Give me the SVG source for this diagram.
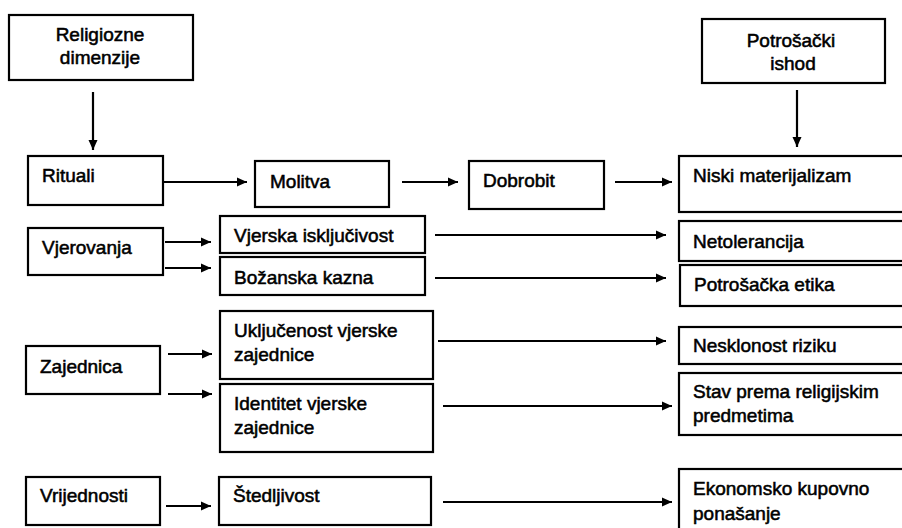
<svg xmlns="http://www.w3.org/2000/svg" width="902" height="528" viewBox="0 0 902 528">
<defs>
<marker id="ah" markerWidth="11" markerHeight="11" refX="10" refY="5.5" orient="auto" markerUnits="userSpaceOnUse">
<path d="M0,1 L10,5.5 L0,10 Z" fill="#000"/>
</marker>
<style>
rect{fill:#fff;stroke:#000;stroke-width:2.2}
text{font-family:"Liberation Sans",Arial,sans-serif;font-size:19px;fill:#000;stroke:#000;stroke-width:0.55}
.c{text-anchor:middle}
.conn line{stroke:#000;stroke-width:2.2;marker-end:url(#ah)}
</style>
</defs>
<rect x="0" y="0" width="902" height="528" style="fill:#fff;stroke:none"/>
<g id="religiozne"><rect x="9" y="15" width="184" height="65"/><text class="c" x="100" y="41">Religiozne</text><text class="c" x="100" y="64">dimenzije</text></g>
<g id="potrosacki"><rect x="702" y="19" width="183" height="64"/><text class="c" x="791" y="47">Potrošački</text><text class="c" x="793" y="70">ishod</text></g>
<g id="rituali"><rect x="28" y="156" width="135" height="49"/><text x="42" y="182">Rituali</text></g>
<g id="molitva"><rect x="255" y="161" width="134" height="46"/><text x="270" y="188">Molitva</text></g>
<g id="dobrobit"><rect x="469" y="161" width="135" height="48"/><text x="483" y="187">Dobrobit</text></g>
<g id="niski"><rect x="679" y="156" width="240" height="56"/><text x="693" y="182">Niski materijalizam</text></g>
<g id="vjerovanja"><rect x="28" y="228" width="135" height="47"/><text x="42" y="254">Vjerovanja</text></g>
<g id="vjerska"><rect x="220" y="216" width="205" height="37"/><text x="234" y="242">Vjerska isključivost</text></g>
<g id="bozanska"><rect x="220" y="257" width="205" height="38"/><text x="234" y="284">Božanska kazna</text></g>
<g id="netolerancija"><rect x="679" y="221" width="240" height="40"/><text x="693" y="248">Netolerancija</text></g>
<g id="etika"><rect x="680" y="265" width="240" height="41"/><text x="694" y="291">Potrošačka etika</text></g>
<g id="zajednica"><rect x="26" y="346" width="134" height="48"/><text x="40" y="373">Zajednica</text></g>
<g id="ukljucenost"><rect x="220" y="311" width="213" height="68"/><text x="234" y="337">Uključenost vjerske</text><text x="234" y="361">zajednice</text></g>
<g id="identitet"><rect x="220" y="384" width="213" height="68"/><text x="234" y="410">Identitet vjerske</text><text x="234" y="434">zajednice</text></g>
<g id="nesklonost"><rect x="679" y="327" width="240" height="37"/><text x="693" y="352">Nesklonost riziku</text></g>
<g id="stav"><rect x="679" y="373" width="240" height="62"/><text x="693" y="398">Stav prema religijskim</text><text x="693" y="422">predmetima</text></g>
<g id="vrijednosti"><rect x="26" y="477" width="134" height="48"/><text x="40" y="502">Vrijednosti</text></g>
<g id="stedljivost"><rect x="219" y="477" width="212" height="48"/><text x="233" y="502">Štedljivost</text></g>
<g id="ekonomsko"><rect x="679" y="469" width="240" height="80"/><text x="693" y="495">Ekonomsko kupovno</text><text x="693" y="520">ponašanje</text></g>
<g class="conn" id="connectors">
<line x1="93" y1="92" x2="93" y2="150"/>
<line x1="797" y1="90" x2="797" y2="147"/>
<line x1="164" y1="182" x2="247" y2="182"/>
<line x1="402" y1="182" x2="458" y2="182"/>
<line x1="615" y1="182" x2="672" y2="182"/>
<line x1="165" y1="242" x2="211" y2="242"/>
<line x1="165" y1="268" x2="211" y2="268"/>
<line x1="435" y1="235" x2="666" y2="235"/>
<line x1="435" y1="278" x2="666" y2="278"/>
<line x1="168" y1="354" x2="212" y2="354"/>
<line x1="168" y1="394" x2="212" y2="394"/>
<line x1="438" y1="341" x2="666" y2="341"/>
<line x1="443" y1="406" x2="672" y2="406"/>
<line x1="166" y1="506" x2="211" y2="506"/>
<line x1="443" y1="502" x2="672" y2="502"/>
</g>
</svg>
